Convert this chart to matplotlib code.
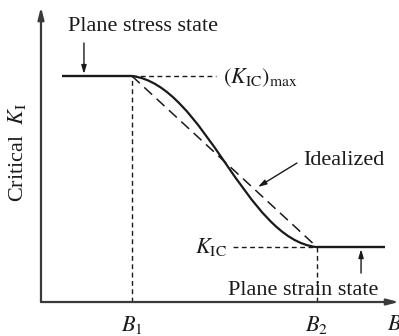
import numpy as np
import matplotlib.pyplot as plt
from matplotlib.path import Path
from matplotlib.patches import PathPatch

plt.rcParams['font.family'] = ['Liberation Serif', 'DejaVu Serif']
plt.rcParams['mathtext.fontset'] = 'stix'

# thickness B (arbitrary units) and critical K_I levels
B1 = 2.54
B2 = 7.71
B_start = 0.59
B_end = 9.61
K_max = 7.74
K_ic = 1.88

# control points of the real transition curve (cubic Bezier)
curve_x = [B1, 4.58, 5.70, B2]
curve_y = [K_max, 7.43, 2.12, K_ic]

ink = '#1a1a1a'
axis_col = '#3a3a3a'

fig = plt.figure(figsize=(3.99, 3.36), dpi=100)
ax = fig.add_axes([0, 0, 1, 1])
ax.set_xlim(-1.145, 10.0)
ax.set_ylim(-1.164, 10.342)
ax.axis('off')

# axes with arrow heads
ax.annotate('', xy=(0, 10.1), xytext=(0, 0),
            arrowprops=dict(arrowstyle='-|>,head_length=0.7,head_width=0.18',
                            color=axis_col, lw=1.6, shrinkA=0, shrinkB=0))
ax.annotate('', xy=(10.0, 0), xytext=(0, 0),
            arrowprops=dict(arrowstyle='-|>,head_length=0.7,head_width=0.18',
                            color=axis_col, lw=1.6, shrinkA=0, shrinkB=0))

# plateaus
ax.plot([B_start, B1], [K_max, K_max], color=ink, lw=1.7, solid_capstyle='butt')
ax.plot([B2, B_end], [K_ic, K_ic], color=ink, lw=1.7, solid_capstyle='butt')

# transition curve
verts = list(zip(curve_x, curve_y))
path = Path(verts, [Path.MOVETO, Path.CURVE4, Path.CURVE4, Path.CURVE4])
ax.add_patch(PathPatch(path, fill=False, edgecolor=ink, lw=1.6))

# idealized straight transition
ax.plot([B1, B2], [K_max, K_ic], color=ink, lw=1.1, dashes=(7, 4))

# reference dashed lines
short = (3.5, 2.5)
ax.plot([B1, B1], [0, K_max], color=ink, lw=1.0, dashes=short)
ax.plot([B2, B2], [0, K_ic], color=ink, lw=1.0, dashes=short)
ax.plot([B1, 4.9], [K_max, K_max], color=ink, lw=1.0, dashes=short)
ax.plot([5.36, B2], [K_ic, K_ic], color=ink, lw=1.0, dashes=short)

fs = 16
ax.text(0.75, 9.45, 'Plane stress state', fontsize=fs, color=ink,
        ha='left', va='center')
ax.annotate('', xy=(1.2, K_max + 0.07), xytext=(1.2, 8.87),
            arrowprops=dict(arrowstyle='-|>,head_length=0.5,head_width=0.15',
                            color=ink, lw=1.0, shrinkA=0, shrinkB=0))

ax.text(5.08, K_max - 0.05, r'$(K_{\mathrm{IC}})_{\mathrm{max}}$', fontsize=fs,
        color=ink, ha='left', va='center')

ax.text(7.32, 4.86, 'Idealized', fontsize=fs, color=ink, ha='left', va='center')
ax.annotate('', xy=(6.06, 3.94), xytext=(7.15, 4.76),
            arrowprops=dict(arrowstyle='-|>,head_length=0.5,head_width=0.15',
                            color=ink, lw=1.0, shrinkA=0, shrinkB=0))

ax.text(4.30, K_ic + 0.0, r'$K_{\mathrm{IC}}$', fontsize=fs, color=ink,
        ha='left', va='center')

ax.text(5.22, 0.38, 'Plane strain state', fontsize=fs, color=ink,
        ha='left', va='center')
ax.annotate('', xy=(8.94, K_ic - 0.07), xytext=(8.94, 0.99),
            arrowprops=dict(arrowstyle='-|>,head_length=0.5,head_width=0.15',
                            color=ink, lw=1.0, shrinkA=0, shrinkB=0))

# tick labels on the thickness axis
ax.text(B1, -0.80, r'$B_1$', fontsize=fs, color=ink, ha='center', va='center')
ax.text(B2, -0.80, r'$B_2$', fontsize=fs, color=ink, ha='center', va='center')
ax.text(9.66, -0.80, r'$B$', fontsize=fs, color=ink, ha='left', va='center')

ax.text(-0.67, 5.12, r'Critical  $K_{\mathrm{I}}$', fontsize=fs, color=ink,
        rotation=90, ha='center', va='center')

fig.savefig('out.png', dpi=100)
